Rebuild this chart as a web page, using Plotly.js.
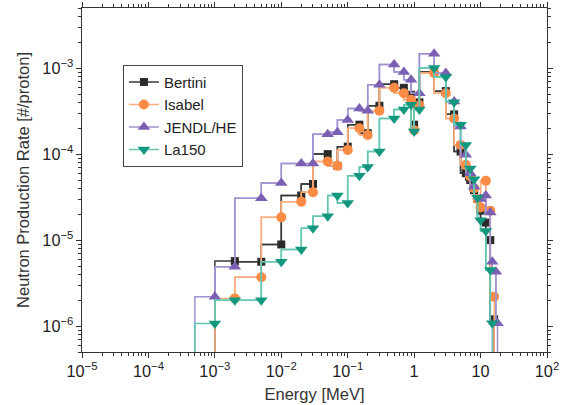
<!DOCTYPE html>
<html>
<head>
<meta charset="utf-8">
<script src="https://cdn.plot.ly/plotly-3.0.1.min.js"></script>
<style>html,body{margin:0;padding:0;background:#fff;}#chart{width:563px;height:405px;}</style>
</head>
<body>
<div id="chart"></div>
<script>
// Energies are upper bin edges [MeV]; values are neutron production rate [#/proton]
const bertiniStart = 1e-3;
const bertiniE = [2e-3, 5e-3, 1e-2, 2e-2, 3e-2, 5e-2, 7e-2, 0.1, 0.15, 0.2, 0.3, 0.5, 0.7, 0.9, 1.0, 1.2, 2, 3, 4, 5, 6, 7, 8, 9, 10, 12, 14, 16];
const bertiniY = [5.7e-6, 5.6e-6, 8.9e-6, 3.3e-5, 4.5e-5, 1.0e-4, 7.3e-5, 1.22e-4, 2.2e-4, 1.75e-4, 3.65e-4, 6.5e-4, 5.9e-4, 4.9e-4, 2.2e-4, 4.0e-4, 9.0e-4, 5.4e-4, 2.9e-4, 1.07e-4, 6.0e-5, 5.0e-5, 3.8e-5, 3.0e-5, 2.2e-5, 1.6e-5, 1.0e-5, 1.2e-6];

const isabelStart = 1e-3;
const isabelE = [2e-3, 5e-3, 1e-2, 2e-2, 3e-2, 5e-2, 7e-2, 0.1, 0.15, 0.2, 0.3, 0.5, 0.7, 0.9, 1.0, 1.2, 2, 3, 4, 5, 6, 7, 8, 9, 10, 12, 14, 16];
const isabelY = [2.1e-6, 3.7e-6, 1.84e-5, 2.8e-5, 3.6e-5, 8.2e-5, 7.3e-5, 1.12e-4, 2.0e-4, 1.67e-4, 3.2e-4, 5.9e-4, 5.1e-4, 4.3e-4, 1.9e-4, 3.7e-4, 8.8e-4, 5.1e-4, 2.6e-4, 1.28e-4, 7.5e-5, 5.5e-5, 4.0e-5, 3.0e-5, 2.4e-5, 4.9e-5, 2.2e-5, 2.2e-6];

const jendlStart = 5e-4;
const jendlE = [1e-3, 2e-3, 5e-3, 1e-2, 2e-2, 3e-2, 5e-2, 7e-2, 0.1, 0.15, 0.2, 0.3, 0.5, 0.7, 0.9, 1.2, 2, 3, 4, 5, 6, 7, 8, 10, 12, 14, 15, 17, 18];
const jendlY = [2.2e-6, 4.9e-6, 3.06e-5, 4.6e-5, 7.8e-5, 7.8e-5, 1.7e-4, 1.8e-4, 2.5e-4, 3.4e-4, 3.2e-4, 6.4e-4, 1.1e-3, 9.0e-4, 7.3e-4, 5.1e-4, 1.47e-3, 8.8e-4, 4.1e-4, 2.1e-4, 9.8e-5, 6.0e-5, 4.2e-5, 3.0e-5, 3.3e-5, 2.1e-5, 5.6e-6, 4.3e-6, 1.08e-6];

const la150Start = 5e-4;
const la150E = [1e-3, 2e-3, 5e-3, 1e-2, 2e-2, 3e-2, 5e-2, 7e-2, 0.1, 0.15, 0.2, 0.3, 0.5, 0.7, 0.9, 1.0, 1.2, 2, 3, 4, 5, 6, 7, 8, 9, 10, 12, 14, 15];
const la150Y = [1.07e-6, 2.0e-6, 2.0e-6, 5.6e-6, 7.8e-6, 1.37e-5, 1.9e-5, 3.3e-5, 2.7e-5, 5.6e-5, 7.1e-5, 1.07e-4, 2.6e-4, 3.3e-4, 3.75e-4, 1.83e-4, 3.3e-4, 1.0e-3, 7.9e-4, 4.0e-4, 2.2e-4, 1.28e-4, 6.8e-5, 5.1e-5, 3.1e-5, 1.7e-5, 1.28e-5, 4.5e-6, 1.08e-6];

const seriesNames = ["Bertini", "Isabel", "JENDL/HE", "La150"];
const FLOOR = 1e-9; // below the visible axis range: steps start/end off-chart

const styles = [
  {line: "#3a3a3a", marker: "#2b2b2b", symbol: "square", size: 8},
  {line: "#ffad7d", marker: "#fb8b45", symbol: "circle", size: 10},
  {line: "#a092d0", marker: "#7a5fb2", symbol: "triangle-up", size: 11},
  {line: "#63c6b0", marker: "#13987f", symbol: "triangle-down", size: 11}
];
const data = [[bertiniStart, bertiniE, bertiniY], [isabelStart, isabelE, isabelY], [jendlStart, jendlE, jendlY], [la150Start, la150E, la150Y]];

const traces = [];
data.forEach((d, i) => {
  const [start, E, Y] = d;
  const s = styles[i];
  traces.push({
    x: [start].concat(E, [E[E.length - 1]]),
    y: [FLOOR].concat(Y, [FLOOR]),
    mode: "lines", type: "scatter", line: {shape: "vh", color: s.line, width: 1.5},
    showlegend: false, hoverinfo: "skip"
  });
  traces.push({
    x: E, y: Y, name: seriesNames[i],
    mode: "lines+markers", type: "scatter",
    line: {shape: "vh", color: s.line, width: 1.5},
    marker: {symbol: s.symbol, size: s.size, color: s.marker, line: {width: 0}}
  });
});

const FONT = "Liberation Sans, Arial, sans-serif";
const axisCommon = {
  type: "log", showgrid: false, zeroline: false,
  showline: true, linecolor: "#333", linewidth: 1, mirror: "allticks",
  ticks: "outside", ticklen: 5, tickcolor: "#333", tickwidth: 1,
  dtick: 1, exponentformat: "power",
  minor: {ticks: "outside", ticklen: 3, tickcolor: "#333", dtick: "D1"},
  tickfont: {family: FONT, size: 13, color: "#222"}
};

const layout = {
  width: 563, height: 405,
  margin: {l: 82, r: 16, t: 8, b: 53},
  paper_bgcolor: "#fff", plot_bgcolor: "#fff",
  font: {family: FONT, color: "#222"},
  xaxis: Object.assign({}, axisCommon, {
    range: [-5, 2],
    title: {text: "Energy [MeV]", font: {family: FONT, size: 16.5, color: "#333"}, standoff: 9}
  }),
  yaxis: Object.assign({}, axisCommon, {
    range: [Math.log10(5e-7), Math.log10(5e-3)],
    title: {text: "Neutron Production Rate [#/proton]", font: {family: FONT, size: 16.5, color: "#333"}, standoff: 8}
  }),
  legend: {
    x: 0.088, y: 0.835, xanchor: "left", yanchor: "top",
    bordercolor: "#444", borderwidth: 1, bgcolor: "#fff",
    font: {family: FONT, size: 15, color: "#222"}, tracegroupgap: 0, itemwidth: 30
  },
  showlegend: true
};

Plotly.newPlot("chart", traces, layout, {displayModeBar: false, staticPlot: true});
</script>
</body>
</html>
